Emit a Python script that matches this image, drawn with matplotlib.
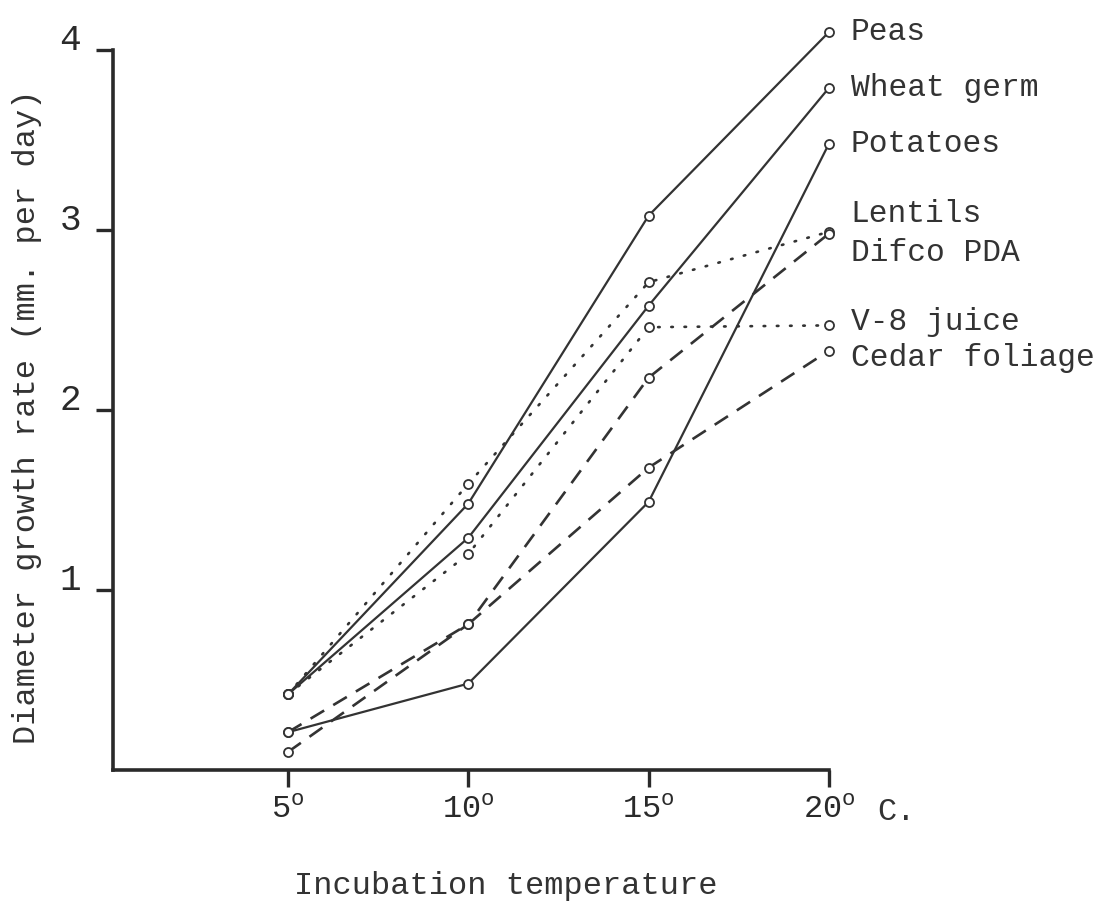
import matplotlib
matplotlib.use("Agg")
import matplotlib.pyplot as plt

plt.rcParams['font.family'] = ['Liberation Mono', 'DejaVu Sans Mono']
plt.rcParams['mathtext.fontset'] = 'custom'
plt.rcParams['mathtext.rm'] = 'Liberation Mono'

temps = [5, 10, 15, 20]
tick_labels = [r'5$^{\mathrm{o}}$', r'10$^{\mathrm{o}}$', r'15$^{\mathrm{o}}$', r'20$^{\mathrm{o}}$']

peas = [0.42, 1.48, 3.08, 4.10]
wheat_germ = [0.42, 1.29, 2.58, 3.79]
potatoes = [0.21, 0.48, 1.49, 3.48]
lentils = [0.42, 1.59, 2.71, 2.99]
difco_pda = [0.10, 0.81, 2.18, 2.98]
v8_juice = [0.42, 1.20, 2.46, 2.47]
cedar_foliage = [0.21, 0.81, 1.68, 2.33]

# name, values, line kind, label nudge (data units)
series = [
    ("Peas", peas, "solid", 0.0),
    ("Wheat germ", wheat_germ, "solid", 0.0),
    ("Potatoes", potatoes, "solid", 0.0),
    ("Lentils", lentils, "dotted", 0.10),
    ("Difco PDA", difco_pda, "dashed", -0.11),
    ("V-8 juice", v8_juice, "dotted", 0.02),
    ("Cedar foliage", cedar_foliage, "dashed", -0.04),
]

styles = {
    "solid": dict(linestyle='-', linewidth=1.6),
    "dotted": dict(linestyle=(0, (0.6, 4.4)), linewidth=1.9, dash_capstyle='round'),
    "dashed": dict(linestyle=(0, (6, 4)), linewidth=1.9),
}

ink = '#333333'

fig = plt.figure(figsize=(11.04, 9.02), dpi=100)
ax = fig.add_axes([113 / 1104, 1 - 770 / 902, 716 / 1104, 720 / 902])

for name, vals, kind, dy in series:
    ax.plot(temps, vals, color=ink, marker='o', markersize=6.5,
            markerfacecolor='white', markeredgecolor=ink, markeredgewidth=1.3,
            clip_on=False, zorder=3, **styles[kind])
    ax.text(20.6, vals[-1] + dy, name, fontsize=22.5, color=ink,
            ha='left', va='center')

ax.set_xlim(0.15, 20)
ax.set_ylim(0, 4)
ax.set_xticks(temps)
ax.set_xticklabels(tick_labels, fontsize=23, color=ink)
ax.set_yticks([1, 2, 3, 4])
ax.set_yticklabels(['1', '2', '3', '4'], fontsize=26, color=ink)
for lab in ax.get_yticklabels():
    lab.set_va('baseline')
ax.text(21.35, -0.28, 'C.', fontsize=23, color=ink, ha='left', va='baseline')

for side in ['top', 'right']:
    ax.spines[side].set_visible(False)
for side in ['left', 'bottom']:
    ax.spines[side].set_linewidth(2.6)
    ax.spines[side].set_color('#2a2a2a')
ax.tick_params(axis='x', direction='out', length=12, width=2.4, pad=6, colors='#2a2a2a')
ax.tick_params(axis='y', direction='out', length=12, width=2.4, pad=11, colors='#2a2a2a')

ax.set_xlabel('Incubation temperature', fontsize=23, color=ink)
ax.xaxis.set_label_coords(0.549, -0.14)
ax.set_ylabel('Diameter growth rate (mm. per day)', fontsize=23, color=ink, va='center')
ax.yaxis.set_label_coords(-0.12, 0.49)

fig.savefig('out.png', dpi=100, facecolor='white')
